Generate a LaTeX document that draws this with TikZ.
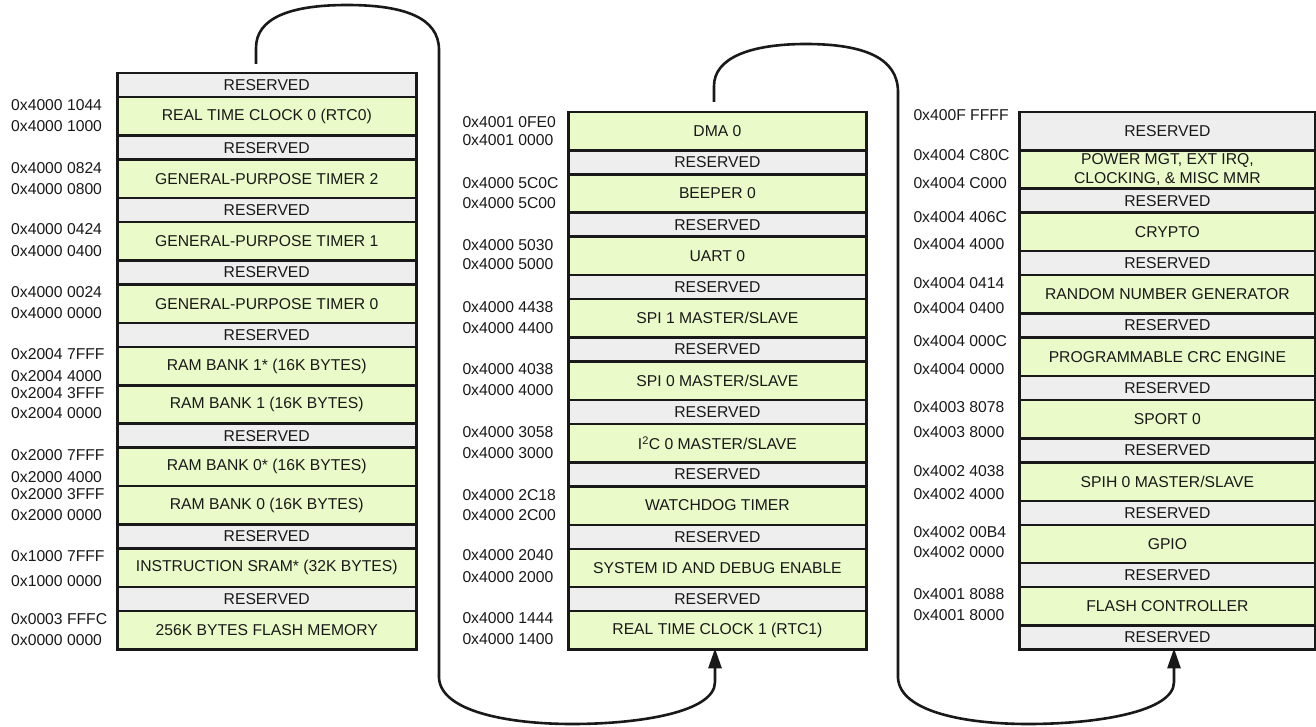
\documentclass[tikz,border=0pt]{standalone}
\usepackage{fontspec}
\setmainfont{Liberation Sans}
\usetikzlibrary{arrows.meta}
\definecolor{memgreen}{RGB}{234,250,200}
\definecolor{memgray}{RGB}{238,238,238}
\definecolor{ink}{RGB}{25,25,25}
\newcommand\memfont{\fontsize{15.7}{20}\selectfont}
\tikzset{
  cell/.style={draw=ink, line width=2.5pt, anchor=north west, inner sep=0pt,
    font=\memfont, text=ink, align=center},
  grn/.style={cell, fill=memgreen, minimum height=38.4pt},
  res/.style={cell, fill=memgray, minimum height=24pt},
  tallres/.style={cell, fill=memgray, minimum height=38.4pt},
  colA/.style={minimum width=299pt},
  colB/.style={minimum width=297.7pt},
  colC/.style={minimum width=295.7pt},
  addr/.style={anchor=west, inner sep=0pt, font=\memfont, text=ink},
  link/.style={draw=ink, line width=2.6pt},
  tip/.style={-{Triangle[length=20pt,width=13pt]}}
}
\begin{document}
\begin{tikzpicture}[x=1pt,y=-1pt]
\useasboundingbox (0,0) rectangle (1316,727);
% ---------------- column A ----------------
\node[res,colA] (a1) at (116,72) {RESERVED};
\node[grn,colA] (a2) at (116,96) {REAL TIME CLOCK 0 (RTC0)};
\node[res,colA] (a3) at (116,134.4) {RESERVED};
\node[grn,colA] (a4) at (116,158.4) {GENERAL-PURPOSE TIMER 2};
\node[res,colA] (a5) at (116,196.8) {RESERVED};
\node[grn,colA] (a6) at (116,220.8) {GENERAL-PURPOSE TIMER 1};
\node[res,colA] (a7) at (116,259.2) {RESERVED};
\node[grn,colA] (a8) at (116,283.2) {GENERAL-PURPOSE TIMER 0};
\node[res,colA] (a9) at (116,321.6) {RESERVED};
\node[grn,colA] (a10) at (116,345.6) {RAM BANK 1* (16K BYTES)};
\node[grn,colA] (a11) at (116,384) {RAM BANK 1 (16K BYTES)};
\node[res,colA] (a12) at (116,422.4) {RESERVED};
\node[grn,colA] (a13) at (116,446.4) {RAM BANK 0* (16K BYTES)};
\node[grn,colA] (a14) at (116,484.8) {RAM BANK 0 (16K BYTES)};
\node[res,colA] (a15) at (116,523.2) {RESERVED};
\node[grn,colA] (a16) at (116,547.2) {INSTRUCTION SRAM* (32K BYTES)};
\node[res,colA] (a17) at (116,585.6) {RESERVED};
\node[grn,colA] (a18) at (116,609.6) {256K BYTES FLASH MEMORY};
% addresses A
\node[addr] (la1) at (11,105) {0x4000 1044};
\node[addr] (la2) at (11,126) {0x4000 1000};
\node[addr] (la3) at (11,168.3) {0x4000 0824};
\node[addr] (la4) at (11,189) {0x4000 0800};
\node[addr] (la5) at (11,229.3) {0x4000 0424};
\node[addr] (la6) at (11,250.7) {0x4000 0400};
\node[addr] (la7) at (11,291.7) {0x4000 0024};
\node[addr] (la8) at (11,312.7) {0x4000 0000};
\node[addr] (la9) at (11,354.3) {0x2004 7FFF};
\node[addr] (la10) at (11,375.7) {0x2004 4000};
\node[addr] (la11) at (11,392.7) {0x2004 3FFF};
\node[addr] (la12) at (11,413.3) {0x2004 0000};
\node[addr] (la13) at (11,455) {0x2000 7FFF};
\node[addr] (la14) at (11,476.7) {0x2000 4000};
\node[addr] (la15) at (11,494) {0x2000 3FFF};
\node[addr] (la16) at (11,515) {0x2000 0000};
\node[addr] (la17) at (11,556) {0x1000 7FFF};
\node[addr] (la18) at (11,580.7) {0x1000 0000};
\node[addr] (la19) at (11,619.3) {0x0003 FFFC};
\node[addr] (la20) at (11,640) {0x0000 0000};
% ---------------- column B ----------------
\node[grn,colB] (b1) at (567.3,110.7) {DMA 0};
\node[res,colB] (b2) at (567.3,149.1) {RESERVED};
\node[grn,colB] (b3) at (567.3,173.1) {BEEPER 0};
\node[res,colB] (b4) at (567.3,211.5) {RESERVED};
\node[grn,colB] (b5) at (567.3,235.5) {UART 0};
\node[res,colB] (b6) at (567.3,273.9) {RESERVED};
\node[grn,colB] (b7) at (567.3,297.9) {SPI 1 MASTER/SLAVE};
\node[res,colB] (b8) at (567.3,336.3) {RESERVED};
\node[grn,colB] (b9) at (567.3,360.3) {SPI 0 MASTER/SLAVE};
\node[res,colB] (b10) at (567.3,398.7) {RESERVED};
\node[grn,colB] (b11) at (567.3,422.7) {I\textsuperscript{2}C 0 MASTER/SLAVE};
\node[res,colB] (b12) at (567.3,461.1) {RESERVED};
\node[grn,colB] (b13) at (567.3,485.1) {WATCHDOG TIMER};
\node[res,colB] (b14) at (567.3,523.5) {RESERVED};
\node[grn,colB] (b15) at (567.3,547.5) {SYSTEM ID AND DEBUG ENABLE};
\node[res,colB] (b16) at (567.3,585.9) {RESERVED};
\node[grn,colB] (b17) at (567.3,609.9) {REAL TIME CLOCK 1 (RTC1)};
% addresses B
\node[addr] (lb1) at (462.3,121.7) {0x4001 0FE0};
\node[addr] (lb2) at (462.3,140) {0x4001 0000};
\node[addr] (lb3) at (462.3,183.3) {0x4000 5C0C};
\node[addr] (lb4) at (462.3,202.7) {0x4000 5C00};
\node[addr] (lb5) at (462.3,245) {0x4000 5030};
\node[addr] (lb6) at (462.3,264.3) {0x4000 5000};
\node[addr] (lb7) at (462.3,307.3) {0x4000 4438};
\node[addr] (lb8) at (462.3,327.7) {0x4000 4400};
\node[addr] (lb9) at (462.3,369) {0x4000 4038};
\node[addr] (lb10) at (462.3,390) {0x4000 4000};
\node[addr] (lb11) at (462.3,431.7) {0x4000 3058};
\node[addr] (lb12) at (462.3,452.7) {0x4000 3000};
\node[addr] (lb13) at (462.3,494.7) {0x4000 2C18};
\node[addr] (lb14) at (462.3,515) {0x4000 2C00};
\node[addr] (lb15) at (462.3,555) {0x4000 2040};
\node[addr] (lb16) at (462.3,576.7) {0x4000 2000};
\node[addr] (lb17) at (462.3,618.3) {0x4000 1444};
\node[addr] (lb18) at (462.3,639.3) {0x4000 1400};
% ---------------- column C ----------------
\node[tallres,colC] (c1) at (1018.3,110.7) {RESERVED};
\node[grn,colC] (c2) at (1018.3,149.1) {POWER MGT, EXT IRQ,\\[-1pt]CLOCKING, \& MISC MMR};
\node[res,colC] (c3) at (1018.3,187.5) {RESERVED};
\node[grn,colC] (c4) at (1018.3,211.5) {CRYPTO};
\node[res,colC] (c5) at (1018.3,249.9) {RESERVED};
\node[grn,colC] (c6) at (1018.3,273.9) {RANDOM NUMBER GENERATOR};
\node[res,colC] (c7) at (1018.3,312.3) {RESERVED};
\node[grn,colC] (c8) at (1018.3,336.3) {PROGRAMMABLE CRC ENGINE};
\node[res,colC] (c9) at (1018.3,374.7) {RESERVED};
\node[grn,colC] (c10) at (1018.3,398.7) {SPORT 0};
\node[res,colC] (c11) at (1018.3,437.1) {RESERVED};
\node[grn,colC] (c12) at (1018.3,461.1) {SPIH 0 MASTER/SLAVE};
\node[res,colC] (c13) at (1018.3,499.5) {RESERVED};
\node[grn,colC] (c14) at (1018.3,523.5) {GPIO};
\node[res,colC] (c15) at (1018.3,561.9) {RESERVED};
\node[grn,colC] (c16) at (1018.3,585.9) {FLASH CONTROLLER};
\node[res,colC] (c17) at (1018.3,624.3) {RESERVED};
% addresses C
\node[addr] (lc1) at (913.3,115) {0x400F FFFF};
\node[addr] (lc2) at (913.3,155) {0x4004 C80C};
\node[addr] (lc3) at (913.3,183.3) {0x4004 C000};
\node[addr] (lc4) at (913.3,216.7) {0x4004 406C};
\node[addr] (lc5) at (913.3,244) {0x4004 4000};
\node[addr] (lc6) at (913.3,283.3) {0x4004 0414};
\node[addr] (lc7) at (913.3,307.7) {0x4004 0400};
\node[addr] (lc8) at (913.3,340.7) {0x4004 000C};
\node[addr] (lc9) at (913.3,369.3) {0x4004 0000};
\node[addr] (lc10) at (913.3,407.3) {0x4003 8078};
\node[addr] (lc11) at (913.3,431.7) {0x4003 8000};
\node[addr] (lc12) at (913.3,470.7) {0x4002 4038};
\node[addr] (lc13) at (913.3,494) {0x4002 4000};
\node[addr] (lc14) at (913.3,531.7) {0x4002 00B4};
\node[addr] (lc15) at (913.3,552.3) {0x4002 0000};
\node[addr] (lc16) at (913.3,594.3) {0x4001 8088};
\node[addr] (lc17) at (913.3,615) {0x4001 8000};
% ---------------- connectors ----------------
\coordinate (s1) at (256,64);
\coordinate (s2) at (714,102);
\coordinate (e1) at (715,648.3);
\coordinate (e2) at (1174,648.3);
\draw[link,tip] (s1) -- (256,48)
  .. controls (256,18) and (290,5) .. (347,5)
  .. controls (405,5) and (439,18) .. (439,50)
  -- (439,678)
  .. controls (441,712) and (510,724) .. (572,724)
  .. controls (640,724) and (715,712) .. (715,682)
  -- (e1);
\draw[link,tip] (s2) -- (714,86)
  .. controls (714,58) and (750,44) .. (806,44)
  .. controls (864,44) and (898,58) .. (898,92)
  -- (898,678)
  .. controls (900,712) and (966,724) .. (1028,724)
  .. controls (1096,724) and (1174,712) .. (1174,682)
  -- (e2);
\end{tikzpicture}
\end{document}
